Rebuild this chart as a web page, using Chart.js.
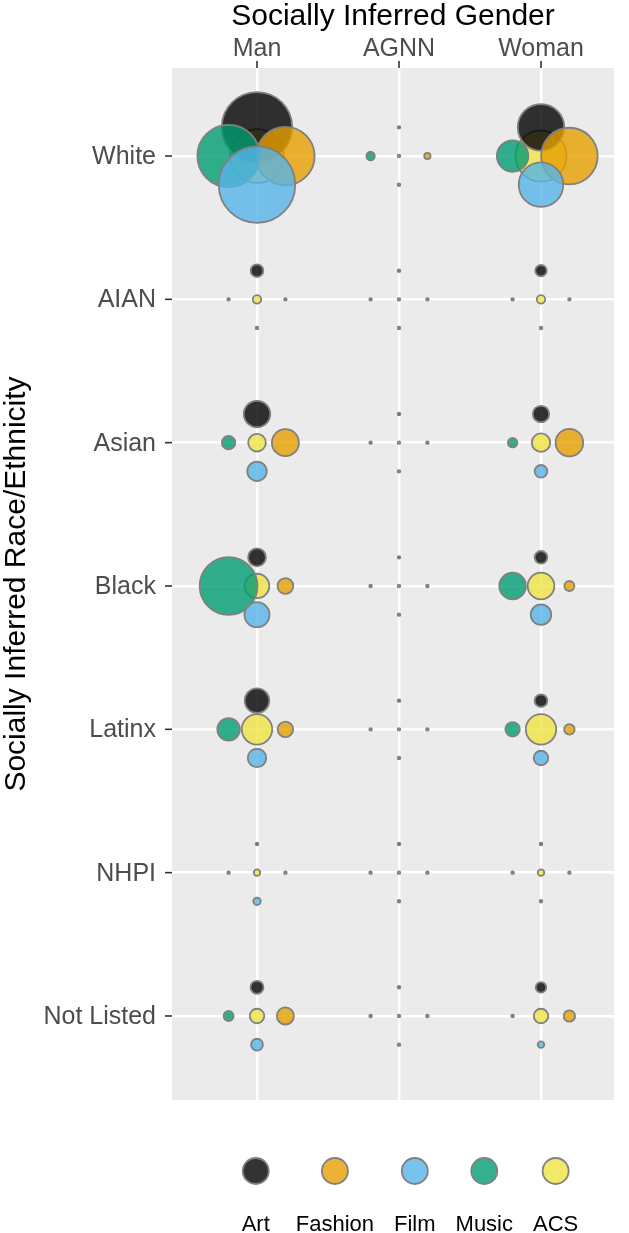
<!DOCTYPE html>
<html>
<head>
<meta charset="utf-8">
<script src="https://cdn.jsdelivr.net/npm/chart.js@4.4.1/dist/chart.umd.min.js"></script>
<style>
html,body{margin:0;padding:0;background:#ffffff;}
#wrap{width:629px;height:1233px;position:relative;}
</style>
</head>
<body>
<div id="wrap"><canvas id="c"></canvas></div>
<script>
// ---- data (percent of each source, by race/ethnicity row x gender column) ----
const genders = ['Man', 'AGNN', 'Woman'];
const races = ['White', 'AIAN', 'Asian', 'Black', 'Latinx', 'NHPI', 'Not Listed'];
const sources = ['Art', 'Fashion', 'Film', 'Music', 'ACS'];

const art     = [[49.7, 0, 21.6], [1.6, 0, 1.3], [7.0, 0, 2.7], [3.2, 0, 1.6], [6.0, 0, 1.6], [0, 0, 0], [1.7, 0, 1.1]];
const fashion = [[34.2, 0.4, 32.0], [0, 0, 0], [7.3, 0, 7.6], [2.5, 0, 1.0], [2.4, 0, 1.1], [0, 0, 0], [2.9, 0, 1.3]];
const film    = [[58.5, 0, 19.8], [0, 0, 0], [3.8, 0, 1.6], [6.3, 0, 4.2], [3.4, 0, 2.1], [0.56, 0, 0], [1.4, 0, 0.42]];
const music   = [[39.0, 0.72, 9.9], [0, 0, 0], [1.8, 0, 0.9], [33.5, 0, 7.1], [5.1, 0, 2.1], [0, 0, 0], [1.0, 0, 0]];
const acs     = [[29.0, 0, 26.0], [0.72, 0, 0.72], [3.1, 0, 3.4], [6.0, 0, 7.1], [9.3, 0, 9.3], [0.42, 0, 0.42], [2.1, 0, 2.1]];

const seriesValues = [art, fashion, film, music, acs];

// ---- styles ----
const seriesStyle = {
  Art:     {color: 'rgba(0,0,0,0.80)',       dx: 0,    dy: -0.2, order: 4},
  Fashion: {color: 'rgba(230,159,0,0.80)',   dx: 0.2,  dy: 0,    order: 3},
  Film:    {color: 'rgba(86,180,233,0.80)',  dx: 0,    dy: 0.2,  order: 1},
  Music:   {color: 'rgba(0,158,115,0.80)',   dx: -0.2, dy: 0,    order: 2},
  ACS:     {color: 'rgba(240,228,66,0.80)',  dx: 0,    dy: 0,    order: 5}
};
const BORDER = '#808080';
const FONT = '"Liberation Sans", Arial, Helvetica, sans-serif';
const sizeK = 5;
function radiusOf(v) { return v > 0 ? sizeK * Math.sqrt(v) : 1.3; }

const datasets = sources.map((s, si) => {
  const st = seriesStyle[s];
  const pts = [];
  races.forEach((r, ri) => {
    genders.forEach((g, gi) => {
      const v = seriesValues[si][ri][gi];
      pts.push({x: gi + 1 + st.dx, y: ri + st.dy, r: radiusOf(v), v: v});
    });
  });
  return {
    label: s,
    data: pts,
    backgroundColor: st.color,
    borderColor: BORDER,
    borderWidth: 1.8,
    hoverBorderWidth: 1.8,
    order: st.order,
    clip: false
  };
});

const bgPlugin = {
  id: 'panelBg',
  beforeDraw(chart) {
    const {ctx, chartArea: a} = chart;
    ctx.save();
    ctx.fillStyle = '#EBEBEB';
    ctx.fillRect(a.left, a.top, a.right - a.left, a.bottom - a.top);
    ctx.restore();
  }
};

const decoPlugin = {
  id: 'deco',
  afterDraw(chart) {
    const {ctx, chartArea: a, scales} = chart;
    const xs = scales.x, ys = scales.y;
    ctx.save();
    // tick marks
    ctx.strokeStyle = '#333333';
    ctx.lineWidth = 1.6;
    genders.forEach((g, i) => {
      const px = xs.getPixelForValue(i + 1);
      ctx.beginPath(); ctx.moveTo(px, a.top); ctx.lineTo(px, a.top - 7); ctx.stroke();
    });
    races.forEach((r, i) => {
      const py = ys.getPixelForValue(i);
      ctx.beginPath(); ctx.moveTo(a.left, py); ctx.lineTo(a.left - 7, py); ctx.stroke();
    });
    // tick labels
    ctx.fillStyle = '#4D4D4D';
    ctx.font = '25px ' + FONT;
    ctx.textAlign = 'center';
    ctx.textBaseline = 'alphabetic';
    genders.forEach((g, i) => {
      ctx.fillText(g, xs.getPixelForValue(i + 1), a.top - 12);
    });
    ctx.textAlign = 'right';
    ctx.textBaseline = 'middle';
    races.forEach((r, i) => {
      ctx.fillText(r, a.left - 16, ys.getPixelForValue(i) + 1);
    });
    // axis titles
    ctx.fillStyle = '#000000';
    ctx.font = '30px ' + FONT;
    ctx.textAlign = 'center';
    ctx.textBaseline = 'alphabetic';
    ctx.fillText('Socially Inferred Gender', (a.left + a.right) / 2, 25);
    ctx.save();
    ctx.translate(25, (a.top + a.bottom) / 2);
    ctx.rotate(-Math.PI / 2);
    ctx.fillText('Socially Inferred Race/Ethnicity', 0, 0);
    ctx.restore();
    // legend
    ctx.font = '22px ' + FONT;
    const widths = sources.map(s => Math.max(40, ctx.measureText(s).width));
    const gap = 20;
    const total = widths.reduce((p, c) => p + c, 0) + gap * (sources.length - 1);
    let x0 = 407 - total / 2;
    sources.forEach((s, i) => {
      const cx = x0 + widths[i] / 2;
      ctx.beginPath();
      ctx.arc(cx, 1171, 13, 0, Math.PI * 2);
      ctx.fillStyle = seriesStyle[s].color;
      ctx.fill();
      ctx.lineWidth = 1.8;
      ctx.strokeStyle = BORDER;
      ctx.stroke();
      ctx.fillStyle = '#000000';
      ctx.textAlign = 'center';
      ctx.textBaseline = 'alphabetic';
      ctx.fillText(s, cx, 1231);
      x0 += widths[i] + gap;
    });
    ctx.restore();
  }
};

new Chart(document.getElementById('c'), {
  type: 'bubble',
  data: {datasets},
  options: {
    responsive: true,
    maintainAspectRatio: false,
    animation: false,
    events: [],
    layout: {autoPadding: false, padding: {left: 172, right: 15, top: 68, bottom: 133}},
    plugins: {legend: {display: false}, tooltip: {enabled: false}},
    scales: {
      x: {
        type: 'linear', position: 'top',
        min: 1 - 85 / 142, max: 3 + 73 / 142,
        afterBuildTicks: (sc) => { sc.ticks = genders.map((g, i) => ({value: i + 1})); },
        ticks: {display: false},
        grid: {color: '#FFFFFF', lineWidth: 2.4, drawTicks: false},
        border: {display: false}
      },
      y: {
        type: 'linear', reverse: true,
        min: -88 / 143.3, max: 6 + 84 / 143.3,
        afterBuildTicks: (sc) => { sc.ticks = races.map((r, i) => ({value: i})); },
        ticks: {display: false},
        grid: {color: '#FFFFFF', lineWidth: 2.4, drawTicks: false},
        border: {display: false}
      }
    }
  },
  plugins: [bgPlugin, decoPlugin]
});
</script>
</body>
</html>
